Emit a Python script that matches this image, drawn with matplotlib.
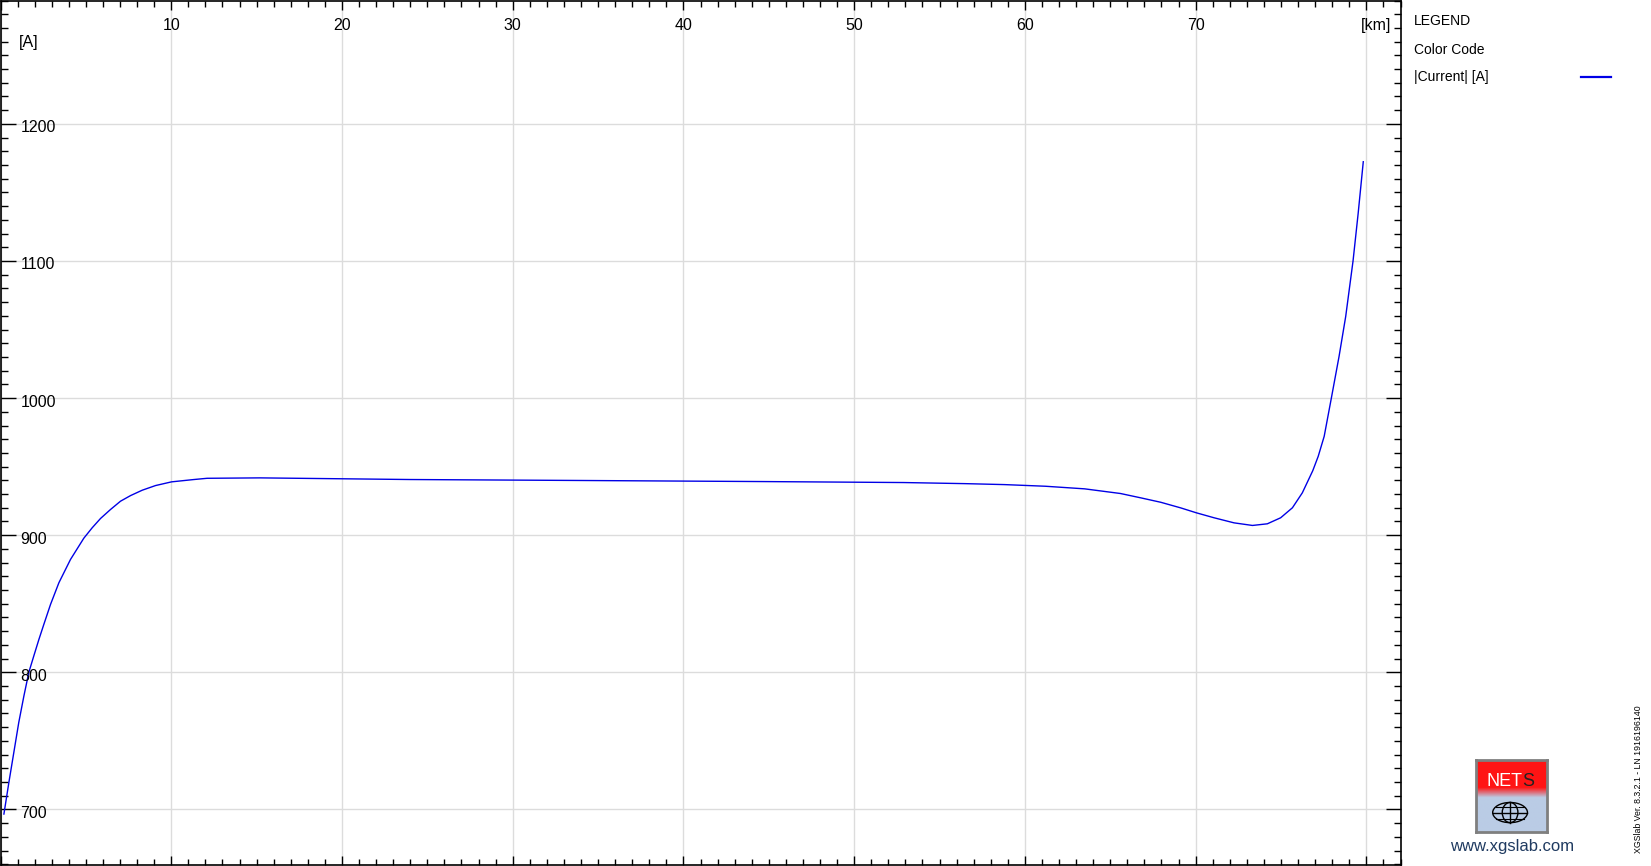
import numpy as np
import matplotlib.pyplot as plt
from matplotlib.ticker import MultipleLocator
from matplotlib.patches import Ellipse

plt.rcParams["font.family"] = ["Liberation Sans", "DejaVu Sans"]

# distance along the line [km] and |Current| [A]
km = [0.20, 0.49, 0.78, 1.07, 1.37, 1.66, 1.95, 2.25, 2.54, 2.93, 3.42, 4.10,
      4.88, 5.37, 5.86, 6.44, 7.03, 7.62, 8.30, 9.08, 10.02, 11.33, 12.1,
      15.2, 18.87, 24.0, 34.0, 44.8, 52.9, 56.5, 58.8, 61.2, 63.5, 65.6,
      66.8, 67.96, 69.13, 70.05, 71.08, 72.25, 73.33, 74.2, 74.98, 75.67,
      76.25, 76.86, 77.18, 77.53, 77.95, 78.40, 78.79, 79.22, 79.52, 79.82]
current = [696.6, 719.6, 741.5, 763.4, 782.7, 800.0, 811.9, 824.0, 835.0,
           849.5, 865.3, 882.3, 897.8, 905.4, 912.2, 918.7, 924.8, 928.9,
           932.8, 936.2, 938.9, 940.6, 941.5, 941.8, 941.3, 940.6, 939.9,
           939.1, 938.4, 937.6, 936.9, 935.7, 933.8, 930.4, 927.2, 924.0,
           919.9, 916.3, 912.7, 909.0, 907.1, 908.3, 912.7, 920.0, 930.9,
           947.0, 957.5, 972.1, 1000.0, 1030.3, 1059.5, 1100.0, 1134.7, 1172.4]

x_ticks = [10, 20, 30, 40, 50, 60, 70]
y_ticks = [700, 800, 900, 1000, 1100, 1200]
line_color = "#0000e6"

W, H = 1651, 866
fig = plt.figure(figsize=(W / 100, H / 100), dpi=100)
ax = fig.add_axes([0.5 / W, 1.5 / H, 1400 / W, 864 / H])

ax.plot(km, current, color=line_color, lw=1.0)
ax.set_xlim(0, 82)
ax.set_ylim(659.8, 1290)

ax.xaxis.set_major_locator(MultipleLocator(10))
ax.xaxis.set_minor_locator(MultipleLocator(1))
ax.yaxis.set_major_locator(MultipleLocator(100))
ax.yaxis.set_minor_locator(MultipleLocator(10))
ax.grid(True, which="major", color="#dcdcdc", lw=1.0)
ax.set_axisbelow(True)
ax.tick_params(axis="both", which="both", direction="in", top=True, right=True,
               labelleft=False, labelbottom=False, color="black", width=1.0)
ax.tick_params(axis="y", which="major", length=10.5)
ax.tick_params(axis="y", which="minor", length=5)
ax.tick_params(axis="x", which="major", length=6.5)
ax.tick_params(axis="x", which="minor", length=4.5)
for s in ax.spines.values():
    s.set_linewidth(1.2)

# tick labels sit inside the frame
ytr = ax.get_yaxis_transform()
for v in y_ticks:
    ax.text(20 / 1400, v - 4 / 1.3726, str(v), transform=ytr, ha="left",
            va="center", fontsize=11.5)
xtr = ax.get_xaxis_transform()
for v in x_ticks:
    ax.text(v, 1 - 25 / 864, str(v), transform=xtr, ha="center", va="center",
            fontsize=11.5)
ax.text(1391 / 1400, 1 - 25 / 864, "[km]", transform=ax.transAxes,
        ha="right", va="center", fontsize=11.5)
ax.text(18 / 1400, 1 - 42 / 864, "[A]", transform=ax.transAxes,
        ha="left", va="center", fontsize=11.5)

# legend panel
fig.text(1414 / W, 1 - 21 / H, "LEGEND", ha="left", va="center", fontsize=10)
fig.text(1414 / W, 1 - 50 / H, "Color Code", ha="left", va="center", fontsize=10)
fig.text(1414 / W, 1 - 77 / H, "|Current| [A]", ha="left", va="center", fontsize=10)
fig.add_artist(plt.Line2D([1581 / W, 1611 / W], [1 - 77 / H, 1 - 77 / H],
                          color=line_color, lw=1.6))

# NETS logo
lx0, lx1, ly0, ly1 = 1476, 1547, 760, 832
lax = fig.add_axes([lx0 / W, 1 - ly1 / H, (lx1 - lx0) / W, (ly1 - ly0) / H])
t = np.linspace(0, 1, 100)[:, None]
red = np.array([1.0, 0.08, 0.08])
blue = np.array([0.73, 0.80, 0.90])
mix = np.clip((t - 0.38) / 0.14, 0, 1)
grad = red * (1 - mix)[..., None] + blue * mix[..., None]
grad = np.repeat(grad, 10, axis=1)
lax.imshow(grad, aspect="auto", extent=[0, 1, 0, 1], origin="upper")
lax.set_xlim(0, 1)
lax.set_ylim(0, 1)
lax.set_xticks([])
lax.set_yticks([])
for s in lax.spines.values():
    s.set_color("#7f7f7f")
    s.set_linewidth(2)
lax.text(0.655, 0.70, "NET", color="white", ha="right", va="center",
         fontsize=13, transform=lax.transAxes)
lax.text(0.655, 0.70, "S", color="#222222", ha="left", va="center",
         fontsize=13, transform=lax.transAxes)
gx, gy, gw, gh = 0.48, 0.27, 0.49, 0.28
lax.add_patch(Ellipse((gx, gy), gw, gh, fill=False, ec="black", lw=1))
lax.add_patch(Ellipse((gx, gy), gw * 0.45, gh, fill=False, ec="black", lw=1))
lax.plot([gx, gx], [gy - gh / 2, gy + gh / 2], color="black", lw=1)
lax.plot([gx - gw / 2, gx + gw / 2], [gy, gy], color="black", lw=1)
for dy in (-0.3, 0.3):
    half = gw / 2 * np.sqrt(1 - (2 * dy) ** 2)
    lax.plot([gx - half, gx + half], [gy + dy * gh, gy + dy * gh],
             color="black", lw=0.8)

fig.text(1512 / W, 1 - 846 / H, "www.xgslab.com", ha="center", va="center",
         fontsize=12, color="#1f3a60")
fig.text(1638 / W, 1 - 779 / H, "XGSlab Ver. 8.3.2.1 - LN 1916196140",
         rotation=90, ha="center", va="center", fontsize=6.3)

fig.savefig("out.png", dpi=100)
